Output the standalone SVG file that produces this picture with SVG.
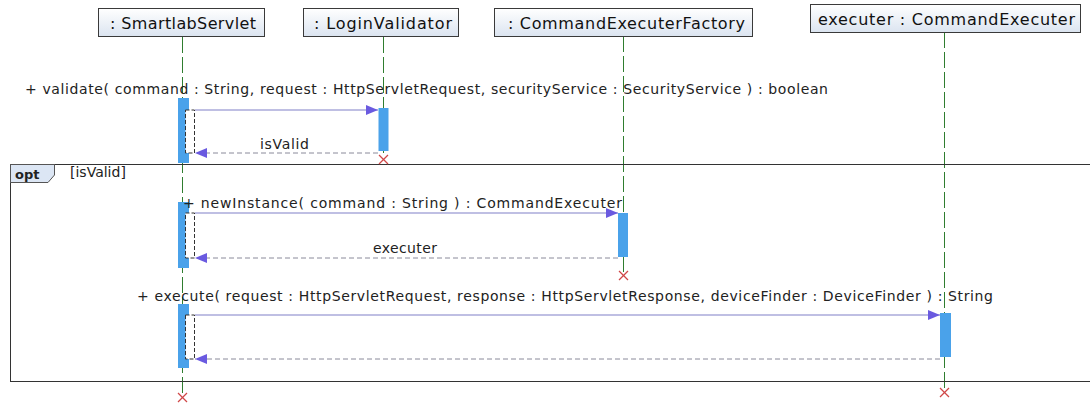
<svg xmlns="http://www.w3.org/2000/svg" width="1090" height="405" viewBox="0 0 1090 405">
<style>
.hdr{fill:url(#hg);stroke:#3a3a3a;stroke-width:1}
.ht{font-family:"DejaVu Sans",sans-serif;font-size:16px;fill:#111}
.mt{font-family:"DejaVu Sans",sans-serif;font-size:14px;fill:#222}
.life{stroke:#2f7d2f;stroke-width:1;stroke-dasharray:16 4;fill:none}
.act{fill:#4aa2ea}
.nest{fill:#fff;stroke:#333;stroke-width:1;stroke-dasharray:4 2}
.call{stroke:#8080c8;stroke-width:1.2;fill:none}
.ret{stroke:#8a8a9a;stroke-width:1;stroke-dasharray:5 3;fill:none}
.x{stroke:#d04848;stroke-width:1.3}
</style>
<defs>
<linearGradient id="hg" x1="0" y1="0" x2="0" y2="1">
<stop offset="0" stop-color="#ffffff"/>
<stop offset="1" stop-color="#dbe4f0"/>
</linearGradient>
<marker id="ah" markerWidth="12" markerHeight="10" refX="12" refY="5" orient="auto" markerUnits="userSpaceOnUse">
<path d="M0,0 L12,5 L0,10 Z" fill="#6a5ae0"/>
</marker>
</defs>
<rect width="1090" height="405" fill="#fff"/>

<!-- lifelines -->
<g id="lifelines">
<line class="life" x1="182.5" y1="37" x2="182.5" y2="393"/>
<line class="life" x1="383.5" y1="37" x2="383.5" y2="156"/>
<line class="life" x1="623.5" y1="36" x2="623.5" y2="272"/>
<line class="life" x1="944.5" y1="32" x2="944.5" y2="389"/>
</g>

<!-- opt frame -->
<g id="opt-frame">
<rect x="10.5" y="164.5" width="1090" height="217" fill="none" stroke="#333" stroke-width="1"/>
<path d="M10.5,164.5 L54.5,164.5 L54.5,175 L48,182.5 L10.5,182.5 Z" fill="#dce6f4" stroke="#555" stroke-width="1"/>
<text x="15" y="179" font-family="DejaVu Sans, sans-serif" font-size="13" font-weight="bold" fill="#222">opt</text>
<text class="mt" x="70" y="177">[isValid]</text>
</g>

<g id="SmartlabServlet">
<rect class="hdr" x="98.5" y="8.5" width="166" height="28"/>
<text class="ht" x="110" y="29" textLength="146">: SmartlabServlet</text>
<rect class="act" x="178" y="98" width="11" height="65"/>
<rect class="nest" x="185.5" y="110" width="9" height="43"/>
<rect class="act" x="178" y="202" width="11" height="66"/>
<rect class="nest" x="185.5" y="213" width="9" height="45"/>
<rect class="act" x="178" y="304" width="11" height="64"/>
<rect class="nest" x="185.5" y="315" width="9" height="44"/>
<g class="x"><line x1="178" y1="393" x2="187" y2="402"/><line x1="187" y1="393" x2="178" y2="402"/></g>
</g>

<g id="LoginValidator">
<rect class="hdr" x="303.5" y="8.5" width="155" height="28"/>
<text class="ht" x="314" y="29" textLength="138">: LoginValidator</text>
<rect class="act" x="378.5" y="108" width="10" height="43"/>
<g class="x"><line x1="379" y1="155" x2="388" y2="164"/><line x1="388" y1="155" x2="379" y2="164"/></g>
</g>

<g id="CommandExecuterFactory">
<rect class="hdr" x="494.5" y="8.5" width="258" height="28"/>
<text class="ht" x="508" y="29" textLength="237">: CommandExecuterFactory</text>
<rect class="act" x="618" y="213" width="10" height="44"/>
<g class="x"><line x1="619" y1="271" x2="628" y2="280"/><line x1="628" y1="271" x2="619" y2="280"/></g>
</g>

<g id="CommandExecuter">
<rect class="hdr" x="810.5" y="4.5" width="270" height="28"/>
<text class="ht" x="818" y="25" textLength="257">executer : CommandExecuter</text>
<rect class="act" x="940" y="313" width="11" height="44"/>
<g class="x"><line x1="940" y1="388" x2="949" y2="397"/><line x1="949" y1="388" x2="940" y2="397"/></g>
</g>

<!-- connectors -->
<g id="connectors">
<line class="call" x1="195" y1="110" x2="378" y2="110" marker-end="url(#ah)"/>
<line class="ret" x1="378" y1="153" x2="195" y2="153" marker-end="url(#ah)"/>
<line class="call" x1="195" y1="213" x2="618" y2="213" marker-end="url(#ah)"/>
<line class="ret" x1="618" y1="258" x2="195" y2="258" marker-end="url(#ah)"/>
<line class="call" x1="195" y1="315" x2="940" y2="315" marker-end="url(#ah)"/>
<line class="ret" x1="940" y1="359" x2="195" y2="359" marker-end="url(#ah)"/>
</g>

<g id="labels">
<text class="mt" x="25" y="94" textLength="803">+ validate( command : String, request : HttpServletRequest, securityService : SecurityService ) : boolean</text>
<text class="mt" x="260" y="149" textLength="49">isValid</text>
<text class="mt" x="183" y="208" textLength="439">+ newInstance( command : String ) : CommandExecuter</text>
<text class="mt" x="373" y="253" textLength="64">executer</text>
<text class="mt" x="137" y="301" textLength="856">+ execute( request : HttpServletRequest, response : HttpServletResponse, deviceFinder : DeviceFinder ) : String</text>
</g>
</svg>
